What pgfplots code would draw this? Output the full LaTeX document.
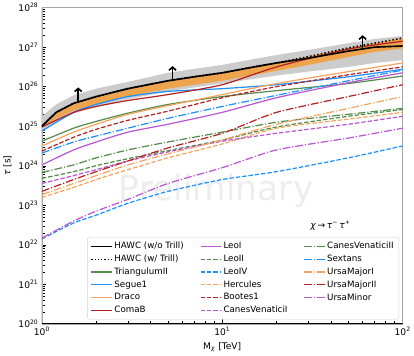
\documentclass[border=0pt]{standalone}
\usepackage{fontspec}
\setmainfont{DejaVu Sans}
\usepackage{pgfplots}
\pgfplotsset{compat=1.18}
\usetikzlibrary{arrows.meta}

\definecolor{cgreen}{RGB}{85,140,75}
\definecolor{cblue}{RGB}{30,144,255}
\definecolor{corange}{RGB}{244,164,96}
\definecolor{cred}{RGB}{178,34,34}
\definecolor{cpurple}{RGB}{186,85,211}
\definecolor{bandorange}{RGB}{238,163,77}
\definecolor{bandgray}{RGB}{204,204,204}

\tikzset{
  dsh/.style={dash pattern=on 4.4pt off 1.9pt},
  dshdot/.style={dash pattern=on 7.7pt off 1.9pt on 1.2pt off 1.9pt},
  lg/.style={line width=1.2pt},
}
\pgfplotsset{dw/.style={line width=1.2pt, smooth, tension=0.4, forget plot}}

\begin{document}
\begin{tikzpicture}
\begin{loglogaxis}[
  width=356pt, height=312pt, scale only axis,
  xmin=1, xmax=100, ymin=1e20, ymax=1e28,
  log basis x=10, log basis y=10,
  xticklabel={10\textsuperscript{\pgfmathprintnumber[assume math mode=true,fixed,precision=0]{\tick}}},
  yticklabel={10\textsuperscript{\pgfmathprintnumber[assume math mode=true,fixed,precision=0]{\tick}}},
  tick label style={font=\fontsize{9}{10}\selectfont},
  label style={font=\fontsize{9}{10}\selectfont},
  xlabel={M\textsubscript{\textit{χ}} [TeV]},
  ylabel={\textit{τ} [s]},
  xtick pos=bottom, ytick pos=left,
  axis line style={gray!70},
  every tick/.style={black},
  legend columns=3,
  legend cell align=left,
  legend style={at={(rel axis cs:0.99,0.013)}, anchor=south east,
    font=\fontsize{8.6}{10}\selectfont, draw=gray!35, rounded corners=2pt,
    fill=white, fill opacity=0.8, text opacity=1,
    row sep=0.6pt, inner sep=3pt,
    /tikz/every even column/.append style={column sep=14pt}},
  legend image code/.code={\draw[#1] (0pt,0pt) -- (20pt,0pt);},
]
\node[font=\fontsize{34}{36}\selectfont, text=black!7] at (rel axis cs:0.483,0.42) {Preliminary};

% legend (row-wise order, three columns)
\addlegendimage{black, line width=1.5pt}\addlegendentry{HAWC (w/o Trill)}
\addlegendimage{cpurple, lg}\addlegendentry{LeoI}
\addlegendimage{cgreen, lg, dshdot}\addlegendentry{CanesVenaticiII}
\addlegendimage{black, line width=1.2pt, dash pattern=on 1.2pt off 2pt}\addlegendentry{HAWC (w/ Trill)}
\addlegendimage{cgreen, lg, dsh}\addlegendentry{LeoII}
\addlegendimage{cblue, lg, dshdot}\addlegendentry{Sextans}
\addlegendimage{cgreen, lg}\addlegendentry{TriangulumII}
\addlegendimage{cblue, lg, dsh}\addlegendentry{LeoIV}
\addlegendimage{corange, lg, dshdot}\addlegendentry{UrsaMajorI}
\addlegendimage{cblue, lg}\addlegendentry{Segue1}
\addlegendimage{corange, lg, dsh}\addlegendentry{Hercules}
\addlegendimage{cred, lg, dshdot}\addlegendentry{UrsaMajorII}
\addlegendimage{corange, lg}\addlegendentry{Draco}
\addlegendimage{cred, lg, dsh}\addlegendentry{Bootes1}
\addlegendimage{cpurple, lg, dshdot}\addlegendentry{UrsaMinor}
\addlegendimage{cred, lg}\addlegendentry{ComaB}
\addlegendimage{cpurple, lg, dsh}\addlegendentry{CanesVenaticiI}

% bands
\addplot[draw=none, fill=bandgray, forget plot] coordinates {
 (1,1.78e25) (1.2,3.55e25) (1.5,6.03e25) (2,8.91e25) (3,1.32e26) (5,2.24e26) (7,2.82e26)
 (10,3.55e26) (15,5.01e26) (20,6.31e26) (30,8.51e26) (50,1.26e27) (70,1.62e27) (100,1.91e27)
 (100,4.68e26) (70,3.98e26) (50,3.16e26) (30,2.40e26) (20,1.91e26) (15,1.58e26) (10,1.20e26)
 (7,9.55e25) (5,7.59e25) (3,4.79e25) (2,3.02e25) (1.5,2.09e25) (1.2,1.32e25) (1,7.08e24)
} -- cycle;
\addplot[draw=none, fill=bandorange, forget plot] coordinates {
 (1,1.00e25) (1.2,2.24e25) (1.5,3.80e25) (2,5.62e25) (3,8.91e25) (5,1.41e26) (7,1.78e26)
 (10,2.24e26) (15,3.16e26) (20,3.98e26) (30,5.75e26) (50,9.55e26) (70,1.26e27) (100,1.70e27)
 (100,9.33e26) (70,7.59e26) (50,5.62e26) (30,3.55e26) (20,2.51e26) (15,2.00e26) (10,1.41e26)
 (7,1.12e26) (5,8.91e25) (3,5.62e25) (2,3.55e25) (1.5,2.51e25) (1.2,1.58e25) (1,8.91e24)
} -- cycle;

% dwarf limits
% TriangulumII
\addplot[cgreen, dw] coordinates {(1,4.17e24)(1.5,8.91e24)(2,1.32e25)(3,2.14e25)(5,3.55e25)(10,5.62e25)(20,7.94e25)(50,1.20e26)(100,1.86e26)};
% Segue1
\addplot[cblue, dw] coordinates {(1,7.59e24)(1.5,2.24e25)(2,3.55e25)(3,5.62e25)(5,7.59e25)(10,8.91e25)(20,1.12e26)(50,1.78e26)(100,2.75e26)};
% Draco
\addplot[corange, dw] coordinates {(1,3.16e24)(1.5,7.08e24)(2,1.12e25)(3,2.00e25)(5,3.31e25)(10,6.31e25)(20,1.20e26)(50,2.40e26)(100,3.98e26)};
% ComaB
\addplot[cred, dw] coordinates {(1,9.55e24)(1.5,2.24e25)(2,3.16e25)(3,4.47e25)(5,6.31e25)(10,1.12e26)(20,3.16e26)(50,8.91e26)(100,1.41e27)};
% LeoI
\addplot[cpurple, dw] coordinates {(1,1.05e24)(1.5,2.51e24)(2,3.98e24)(3,7.08e24)(5,1.12e25)(10,2.24e25)(20,5.25e25)(50,1.26e26)(100,2.24e26)};
% LeoII
\addplot[cgreen, dw, dsh] coordinates {(1,4.79e23)(1.5,7.08e23)(2,1.00e24)(3,1.51e24)(5,2.40e24)(10,4.47e24)(20,9.55e24)(50,1.78e25)(100,2.63e25)};
% LeoIV
\addplot[cblue, dw, dsh] coordinates {(1,1.41e22)(1.5,3.55e22)(2,5.62e22)(3,1.12e23)(5,2.24e23)(10,4.47e23)(20,7.08e23)(50,1.58e24)(100,3.16e24)};
% Hercules
\addplot[corange, dw, dsh] coordinates {(1,1.58e23)(1.5,2.82e23)(2,4.47e23)(3,7.94e23)(5,1.58e24)(10,3.55e24)(20,8.91e24)(50,1.51e25)(100,2.24e25)};
% Bootes1
\addplot[cred, dw, dsh] coordinates {(1,2.34e24)(1.5,5.25e24)(2,8.32e24)(3,1.41e25)(5,2.40e25)(10,5.25e25)(20,1.00e26)(50,2.00e26)(100,3.16e26)};
% CanesVenaticiI
\addplot[cpurple, dw, dsh] coordinates {(1,3.55e23)(1.5,5.62e23)(2,7.94e23)(3,1.32e24)(5,2.24e24)(10,4.17e24)(20,6.61e24)(50,1.12e25)(100,1.78e25)};
% CanesVenaticiII
\addplot[cgreen, dw, dshdot] coordinates {(1,6.76e23)(1.5,1.05e24)(2,1.58e24)(3,2.51e24)(5,3.98e24)(10,7.08e24)(20,1.26e25)(50,2.00e25)(100,2.82e25)};
% Sextans
\addplot[cblue, dw, dshdot] coordinates {(1,2.09e24)(1.5,3.98e24)(2,5.62e24)(3,8.91e24)(5,1.58e25)(10,3.16e25)(20,6.03e25)(50,1.41e26)(100,2.63e26)};
% UrsaMajorI
\addplot[corange, dw, dshdot] coordinates {(1,1.86e23)(1.5,3.55e23)(2,5.62e23)(3,1.05e24)(5,2.00e24)(10,4.47e24)(20,1.12e25)(50,2.82e25)(100,5.62e25)};
% UrsaMajorII
\addplot[cred, dw, dshdot] coordinates {(1,2.24e23)(1.5,4.47e23)(2,7.08e23)(3,1.32e24)(5,2.82e24)(10,6.61e24)(20,2.24e25)(50,5.62e25)(100,1.12e26)};
% UrsaMinor
\addplot[cpurple, dw, dshdot] coordinates {(1,1.48e22)(1.5,3.98e22)(2,7.08e22)(3,1.41e23)(5,3.55e23)(10,8.91e23)(20,2.51e24)(50,5.01e24)(100,8.91e24)};

% HAWC combined
\addplot[black, line width=1.6pt, forget plot] coordinates {
 (1,1.00e25) (1.2,2.24e25) (1.5,3.80e25) (2,5.62e25) (3,8.91e25) (5,1.41e26) (7,1.78e26)
 (10,2.24e26) (15,3.16e26) (20,3.98e26) (30,5.25e26) (50,7.94e26) (70,1.00e27) (100,1.07e27)};
\addplot[black, line width=1.6pt, forget plot, dash pattern=on 1.4pt off 2.2pt] coordinates {
 (1,1.00e25) (1.2,2.24e25) (1.5,3.80e25) (2,5.62e25) (3,8.91e25) (5,1.41e26) (7,1.78e26)
 (10,2.24e26) (15,3.16e26) (20,3.98e26) (30,5.75e26) (50,9.55e26) (70,1.26e27) (100,1.70e27)};

% lower-limit arrows
\addplot[black, line width=1.6pt, forget plot, -{Straight Barb[length=3pt,width=7pt]}] coordinates {(1.59,3.98e25) (1.59,9.55e25)};
\addplot[black, line width=1.6pt, forget plot, -{Straight Barb[length=3pt,width=7pt]}] coordinates {(5.3,1.45e26) (5.3,3.31e26)};
\addplot[black, line width=1.6pt, forget plot, -{Straight Barb[length=3pt,width=7pt]}] coordinates {(60,8.9e26) (60,2.0e27)};

\node[font=\fontsize{9}{10}\selectfont] at (rel axis cs:0.80,0.31) {\textit{χ}\,→\,\textit{τ}\textsuperscript{−}\,\textit{τ}\textsuperscript{+}};

\draw[black, line width=0.8pt] (rel axis cs:0,1) -- (rel axis cs:0,0) -- (rel axis cs:1,0);
\end{loglogaxis}
\end{tikzpicture}
\end{document}
